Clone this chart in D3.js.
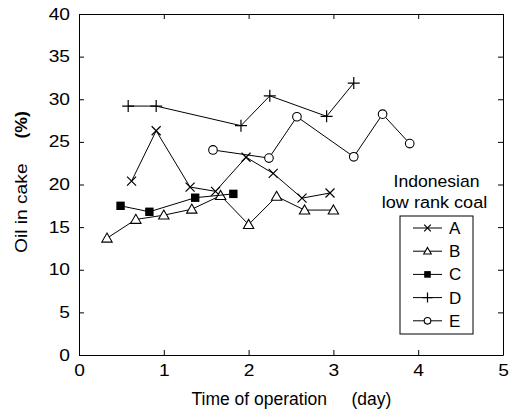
<html lang="en">
<head>
    <meta charset="utf-8">
    <title>Oil in cake</title>
    <script type="text/javascript" src="https://cdn.jsdelivr.net/npm/d3@7"></script>
    <style type="text/css">
        body { margin: 0; background: #fff; }
        text { font-family: "Liberation Sans", Arial, sans-serif; }
    </style>
</head>
<body>
<script type="text/javascript">
    // values (day, %)
    var seriesNames = ["A", "B", "C", "D", "E"];
    var xTicks = [0, 1, 2, 3, 4, 5];
    var yTicks = [0, 5, 10, 15, 20, 25, 30, 35, 40];

    var dataA = [[0.62, 20.4], [0.91, 26.3], [1.31, 19.7], [1.61, 19.2], [1.97, 23.2], [2.29, 21.3], [2.63, 18.4], [2.96, 19.0]];
    var dataB = [[0.33, 13.7], [0.67, 15.9], [1.00, 16.4], [1.33, 17.1], [1.67, 18.7], [2.00, 15.3], [2.33, 18.6], [2.66, 17.0], [3.00, 17.0]];
    var dataC = [[0.49, 17.5], [0.83, 16.8], [1.37, 18.45], [1.82, 18.9]];
    var dataD = [[0.58, 29.2], [0.91, 29.2], [1.91, 26.9], [2.25, 30.4], [2.92, 28.0], [3.24, 31.9]];
    var dataE = [[1.58, 24.05], [2.24, 23.1], [2.57, 27.95], [3.24, 23.25], [3.58, 28.25], [3.90, 24.8]];

    var allData = [dataA, dataB, dataC, dataD, dataE];

    var w = 512, h = 412;
    var mLeft = 79, mRight = 503, mTop = 14, mBottom = 355;
    var stretch = 1.2;   // the figure's lettering is a bit wide

    var svg = d3.select("body").append("svg")
            .attr("width", w)
            .attr("height", h);

    var x = d3.scaleLinear().domain([0, 5]).range([mLeft, mRight]);
    var y = d3.scaleLinear().domain([0, 40]).range([mBottom, mTop]);

    // frame with inward ticks on all sides
    function styleAxis(g) {
        g.selectAll("path").attr("stroke", "#000").attr("stroke-width", 1);
        g.selectAll("line").attr("stroke", "#000");
        g.selectAll("text").attr("font-size", "16px").attr("fill", "#000")
                .attr("font-family", "'Liberation Sans', Arial, sans-serif");
    }

    svg.append("g").attr("transform", "translate(0," + mBottom + ")")
            .call(d3.axisBottom(x).tickValues(xTicks).tickFormat(d3.format("d"))
                    .tickSizeInner(-5).tickSizeOuter(0).tickPadding(10))
            .call(styleAxis)
            .selectAll("text").attr("transform", "scale(" + stretch + ",1)");
    svg.append("g").attr("transform", "translate(0," + mTop + ")")
            .call(d3.axisTop(x).tickValues(xTicks).tickFormat("")
                    .tickSizeInner(-5).tickSizeOuter(0))
            .call(styleAxis);
    svg.append("g").attr("transform", "translate(" + mLeft + ",0)")
            .call(d3.axisLeft(y).tickValues(yTicks).tickFormat(d3.format("d"))
                    .tickSizeInner(-5).tickSizeOuter(0).tickPadding(9))
            .call(styleAxis)
            .selectAll("text").attr("x", -9 / stretch).attr("transform", "scale(" + stretch + ",1)");
    svg.append("g").attr("transform", "translate(" + mRight + ",0)")
            .call(d3.axisRight(y).tickValues(yTicks).tickFormat("")
                    .tickSizeInner(-5).tickSizeOuter(0))
            .call(styleAxis);

    // marker drawing
    function drawMarker(g, name, cx, cy, s) {
        if (name === "A") {
            g.append("path").attr("d", "M" + (cx - s) + "," + (cy - s) + "L" + (cx + s) + "," + (cy + s) +
                    "M" + (cx - s) + "," + (cy + s) + "L" + (cx + s) + "," + (cy - s))
                    .attr("stroke", "#000").attr("stroke-width", 1.2).attr("fill", "none");
        } else if (name === "B") {
            var r = s * 1.15;
            g.append("path").attr("d", "M" + cx + "," + (cy - r) + "L" + (cx + r) + "," + (cy + r * 0.75) +
                    "L" + (cx - r) + "," + (cy + r * 0.75) + "Z")
                    .attr("stroke", "#000").attr("stroke-width", 1.1).attr("fill", "#fff");
        } else if (name === "C") {
            g.append("rect").attr("x", cx - s).attr("y", cy - s).attr("width", 2 * s).attr("height", 2 * s)
                    .attr("fill", "#000");
        } else if (name === "D") {
            g.append("path").attr("d", "M" + (cx - s - 1) + "," + cy + "L" + (cx + s + 1) + "," + cy +
                    "M" + cx + "," + (cy - s - 1) + "L" + cx + "," + (cy + s + 1))
                    .attr("stroke", "#000").attr("stroke-width", 1.2).attr("fill", "none");
        } else {
            g.append("circle").attr("cx", cx).attr("cy", cy).attr("r", s)
                    .attr("stroke", "#000").attr("stroke-width", 1.1).attr("fill", "#fff");
        }
    }

    var sizes = {A: 4.5, B: 4.5, C: 4.2, D: 5, E: 4.3};
    var line = d3.line().x(function(d) { return x(d[0]); }).y(function(d) { return y(d[1]); });

    allData.forEach(function(data, i) {
        var name = seriesNames[i];
        var g = svg.append("g");
        g.append("path").datum(data).attr("d", line)
                .attr("fill", "none").attr("stroke", "#000").attr("stroke-width", 1);
        data.forEach(function(d) {
            drawMarker(g, name, x(d[0]), y(d[1]), sizes[name]);
        });
    });

    // legend
    svg.append("text").attr("transform", "translate(436.5,187) scale(1.1,1)").attr("text-anchor", "middle")
            .attr("font-size", "16px").text("Indonesian");
    svg.append("text").attr("transform", "translate(434.5,208) scale(1.13,1)").attr("text-anchor", "middle")
            .attr("font-size", "16px").text("low rank coal");
    svg.append("rect").attr("x", 400).attr("y", 216).attr("width", 73).attr("height", 118)
            .attr("fill", "#fff").attr("stroke", "#000").attr("stroke-width", 1);
    seriesNames.forEach(function(name, i) {
        var ly = 228 + i * 23.2;
        var g = svg.append("g");
        g.append("line").attr("x1", 413).attr("x2", 442).attr("y1", ly).attr("y2", ly)
                .attr("stroke", "#000").attr("stroke-width", 1);
        drawMarker(g, name, 427.5, ly, name === "D" ? 4 : 3.3);
        g.append("text").attr("x", 449).attr("y", ly + 6).attr("font-size", "17px").text(name);
    });

    // axis titles
    svg.append("text").attr("x", 191.5).attr("y", 405)
            .attr("font-size", "17.5px").text("Time of operation");
    svg.append("text").attr("x", 351.5).attr("y", 405)
            .attr("font-size", "17.5px").text("(day)");
    svg.append("text").attr("transform", "translate(27,253) rotate(-90) scale(" + stretch + ",1)")
            .attr("font-size", "16px").text("Oil in cake");
    svg.append("text").attr("transform", "translate(27,138.5) rotate(-90) scale(1.1,1)")
            .attr("font-size", "16px").attr("font-weight", "bold").text("(%)");
</script>
</body>
</html>
